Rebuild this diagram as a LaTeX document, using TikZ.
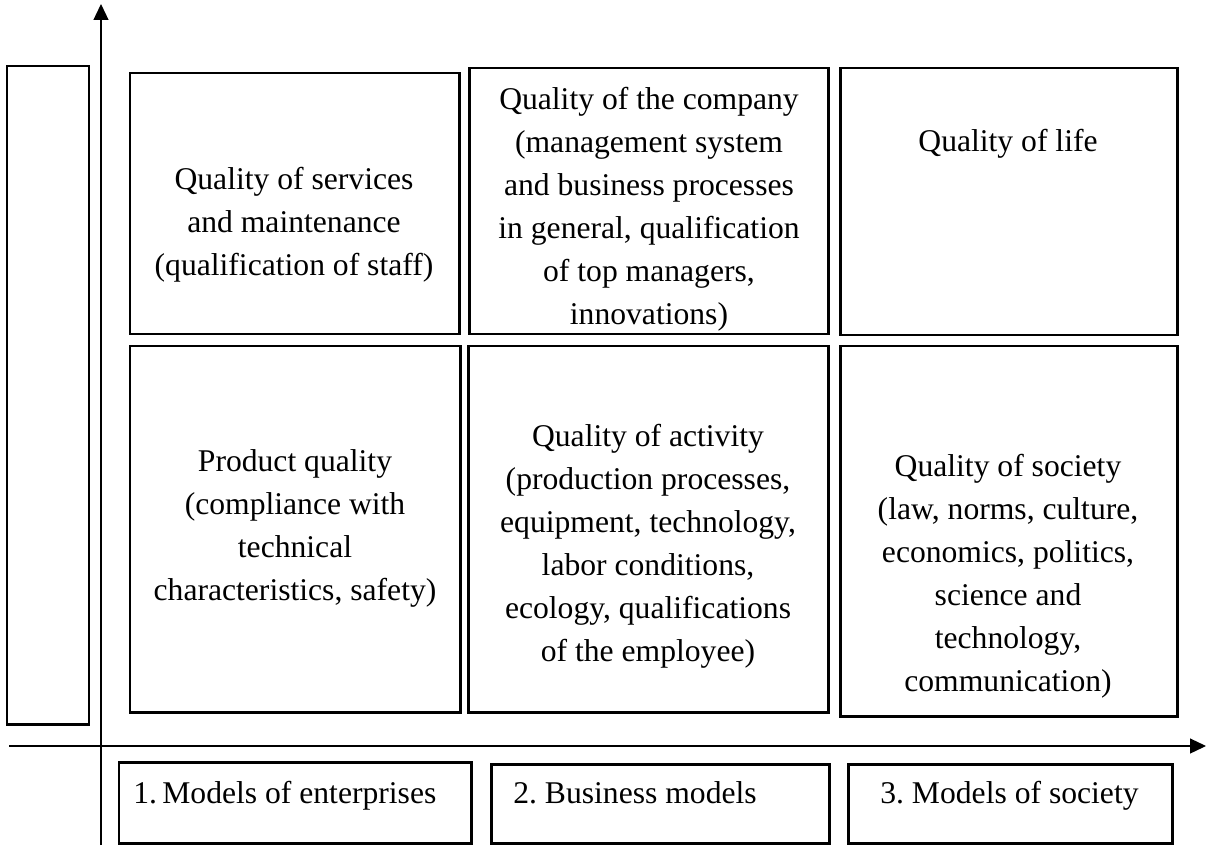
\documentclass[tikz,border=0pt]{standalone}
\usepackage{fontspec}
\setmainfont{Liberation Serif}
\usetikzlibrary{arrows.meta}

\begin{document}
\begin{tikzpicture}[x=0.02cm,y=-0.02cm,
  frame/.style={line width=1.7pt},
  axis/.style={line width=0.7pt,-{Triangle[length=0.32cm,width=0.3cm]}},
  txt/.style={align=center,inner sep=0pt,font=\fontsize{18}{24.5}\selectfont},
  lbl/.style={anchor=base west,inner sep=0pt,font=\fontsize{18}{24.5}\selectfont}]
\useasboundingbox (0,0) rectangle (1206,845);
% frames of the grid
\foreach \xa/\ya/\xb/\yb in {7/66/89/724,
  130/73/459/334, 469/68/828/334, 840/68/1177/335,
  130/346/460/712, 468/346/828/712, 840/346/1177/716,
  119/762/471/843, 491/764/829/843, 848/764/1172/843}
\draw[frame] (\xa,\ya) rectangle (\xb,\yb);
% axes
\coordinate (o1) at (101,845);
\coordinate (y1) at (101,4);
\coordinate (o2) at (9,746);
\coordinate (x1) at (1206,746);
\draw[axis] (o1) -- (y1);
\draw[axis] (o2) -- (x1);
\node[txt] (q11) at (294,225) {Quality of services\\and maintenance\\(qualification of staff)};
\node[txt] (q12) at (649,209) {Quality of the company\\(management system\\and business processes\\in general, qualification\\of top managers,\\innovations)};
\node[txt] (q13) at (1008,144) {Quality of life};
\node[txt] (q21) at (295,528) {Product quality\\(compliance with\\technical\\characteristics, safety)};
\node[txt] (q22) at (648,546) {Quality of activity\\(production processes,\\equipment, technology,\\labor conditions,\\ecology, qualifications\\of the employee)};
\node[txt] (q23) at (1008,576) {Quality of society\\(law, norms, culture,\\economics, politics,\\science and\\technology,\\communication)};
\node[lbl] (m1) at (133,803) {1.\,Models of enterprises};
\node[lbl] (m2) at (513,803) {2.\ Business models};
\node[lbl] (m3) at (880,803) {3.\ Models of society};
\end{tikzpicture}
\end{document}
